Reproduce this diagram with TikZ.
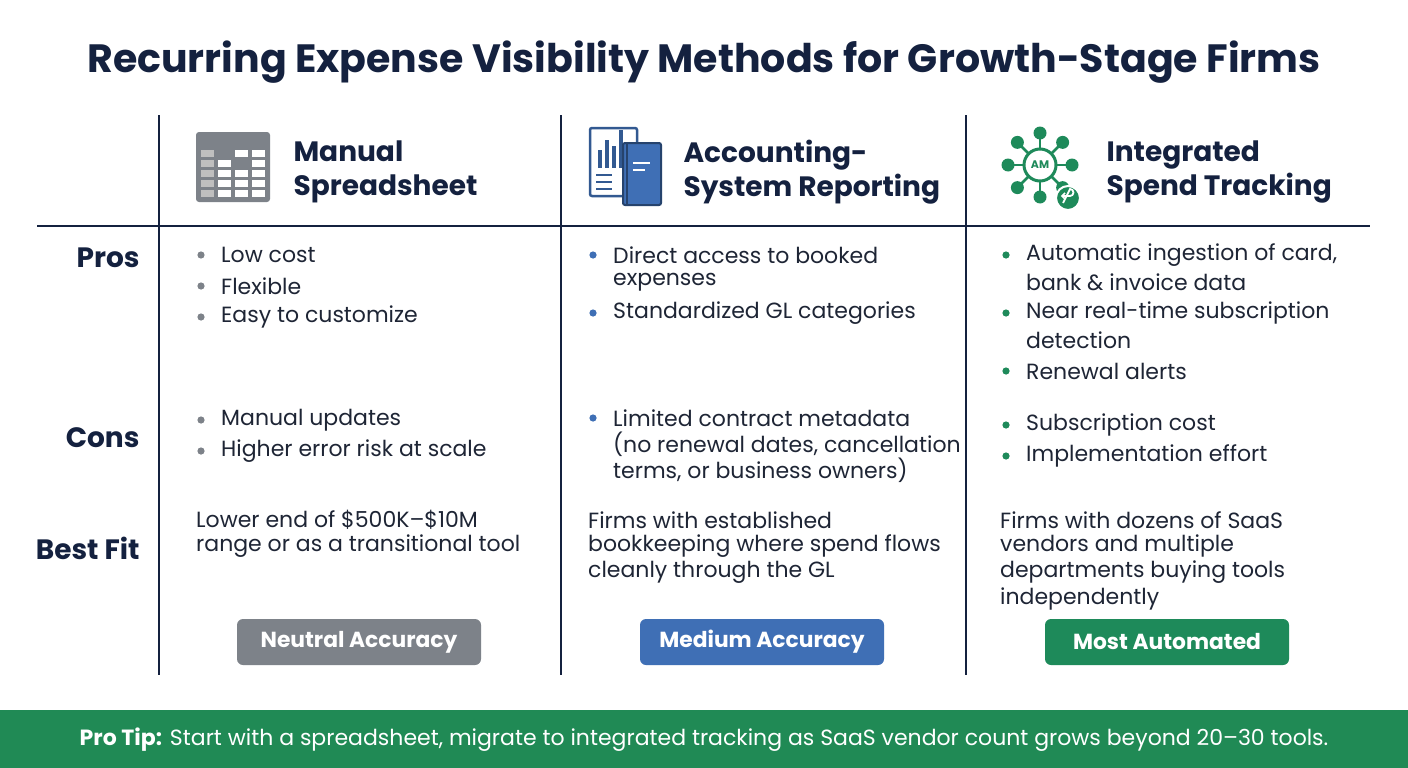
\documentclass[tikz,border=0pt]{standalone}
\usepackage{fontspec}
\setmainfont{Poppins}
\begin{document}
\begin{tikzpicture}[x=1pt,y=-1pt,
  title/.style={font=\fontsize{39.5}{44}\selectfont\bfseries, text=hd},
  head/.style={font=\fontsize{28}{34}\selectfont\bfseries, text=hd, anchor=west, align=left},
  row/.style={font=\fontsize{28}{30}\selectfont\bfseries, text=hd, anchor=east},
  txt/.style={font=\fontsize{22}{26}\selectfont, text=tx, anchor=west, align=left, inner sep=0pt},
  btn/.style={rounded corners=6pt, minimum width=244pt, minimum height=46pt, font=\fontsize{21.8}{24}\selectfont\bfseries, text=white},
  sep/.style={draw=hd, line width=2.5pt}]
\definecolor{hd}{HTML}{14213F}
\definecolor{tx}{HTML}{1E2535}
\definecolor{gr}{HTML}{7D8289}
\definecolor{bl}{HTML}{3F6FB5}
\definecolor{gn}{HTML}{1E8A5A}
\definecolor{ft}{HTML}{208A55}
\useasboundingbox[fill=white] (0,0) rectangle (1408,768);
\node[title] (t) at (704,62) {Recurring Expense Visibility Methods for Growth-Stage Firms};
% grid
\coordinate (v1a) at (159,115); \coordinate (v1b) at (159,675);
\coordinate (v2a) at (561,115); \coordinate (v2b) at (561,675);
\coordinate (v3a) at (966,115); \coordinate (v3b) at (966,675);
\coordinate (ha) at (37,226); \coordinate (hb) at (1370,226);
\draw[sep] (v1a)--(v1b); \draw[sep] (v2a)--(v2b); \draw[sep] (v3a)--(v3b); \draw[sep] (ha)--(hb);
% icon 1 spreadsheet
\fill[gr, rounded corners=3pt] (196,132) rectangle (270,202);
\foreach \r in {0,...,4}{\foreach \c in {0,...,3}{
  \fill[white] (201+\c*17,150+\r*10) rectangle (214+\c*17,157+\r*10);}}
\fill[gr] (218,150) rectangle (231,157);\fill[gr] (235,160) rectangle (248,167);
\foreach \r in {0,...,4}{\fill[gray!50] (201,150+\r*10) rectangle (214,157+\r*10);}
% icon 2
\draw[bl!80!black, line width=2.5pt, fill=white, rounded corners=2pt] (590,128) rectangle (637,196);
\foreach \xx/\hh in {598/18,605/28,612/22,619/38}{\fill[bl!80!black] (\xx,168) rectangle (\xx+4,168-\hh);}
\foreach \yy in {175,182,189}{\draw[bl!80!black, line width=2pt] (596,\yy)--(612,\yy);}
\fill[bl, draw=bl!60!black, line width=2pt, rounded corners=2pt] (623,143) rectangle (661,205);
\draw[white, line width=2pt] (633,163)--(650,163); \draw[white, line width=2pt] (633,170)--(645,170);
\draw[bl!60!black, line width=2.5pt] (627,143)--(627,205);
% icon 3 network
\foreach \a in {0,45,...,315}{\draw[gn, line width=2.5pt] (1040,165) -- ++(\a:32); \fill[gn] (1040,165) ++(\a:32) circle (6.5);}
\draw[gn, line width=3pt, fill=white] (1040,165) circle (16);
\node[font=\fontsize{11}{12}\selectfont\bfseries, text=gn] (am) at (1040,165) {AM};
\draw[white, line width=2pt, fill=gn] (1068,198) circle (12);
\draw[white, line width=1.8pt] (1062,196) -- (1070,196) arc (90:-90:3.5) -- (1063,203);
\draw[white, line width=1.5pt] (1065,193) -- (1062,196) -- (1065,199);
% headers
\node[head] (h1) at (290,172) {Manual\\Spreadsheet};
\node[head] (h2) at (680,172) {Accounting-\\System Reporting};
\node[head] (h3) at (1103,172) {Integrated\\Spend Tracking};
% row labels
\node[row] (r1) at (143,258) {Pros};
\node[row] (r2) at (143,438) {Cons};
\node[row] (r3) at (143,548) {Best Fit};
% bullets
\newcommand\bul[4]{\fill[#1] (#2,#3) circle (3.6); \node[txt] at (#2+20,#3) {#4};}
\bul{gr}{201}{255}{Low cost}
\bul{gr}{201}{286}{Flexible}
\bul{gr}{201}{317}{Easy to customize}
\bul{gr}{201}{420}{Manual updates}
\bul{gr}{201}{451}{Higher error risk at scale}
\bul{bl}{593}{255}{Direct access to booked}
\node[txt] at (613,282) {expenses};
\bul{bl}{593}{313}{Standardized GL categories}
\bul{bl}{593}{418}{Limited contract metadata}
\node[txt] at (613,444) {(no renewal dates, cancellation};
\node[txt] at (613,470) {terms, or business owners)};
\bul{gn}{1006}{255}{Automatic ingestion of card,}
\node[txt] at (1026,282) {bank \& invoice data};
\bul{gn}{1006}{313}{Near real-time subscription}
\node[txt] at (1026,340) {detection};
\bul{gn}{1006}{371}{Renewal alerts}
\bul{gn}{1006}{425}{Subscription cost}
\bul{gn}{1006}{456}{Implementation effort}
% best fit
\node[txt] at (196,520) {Lower end of \$500K--\$10M};
\node[txt] at (196,546) {range or as a transitional tool};
\node[txt] at (588,520) {Firms with established};
\node[txt] at (588,546) {bookkeeping where spend flows};
\node[txt] at (588,572) {cleanly through the GL};
\node[txt] at (1000,520) {Firms with dozens of SaaS};
\node[txt] at (1000,546) {vendors and multiple};
\node[txt] at (1000,572) {departments buying tools};
\node[txt] at (1000,599) {independently};
% buttons
\node[btn, fill=gr] (b1) at (359,642) {Neutral Accuracy};
\node[btn, fill=bl] (b2) at (762,642) {Medium Accuracy};
\node[btn, fill=gn] (b3) at (1167,642) {Most Automated};
% footer
\fill[ft] (0,710) rectangle (1408,768);
\node[font=\fontsize{22}{24}\selectfont, text=white] (pt) at (704,740) {\textbf{Pro Tip:} Start with a spreadsheet, migrate to integrated tracking as SaaS vendor count grows beyond 20–30 tools.};
\end{tikzpicture}
\end{document}
